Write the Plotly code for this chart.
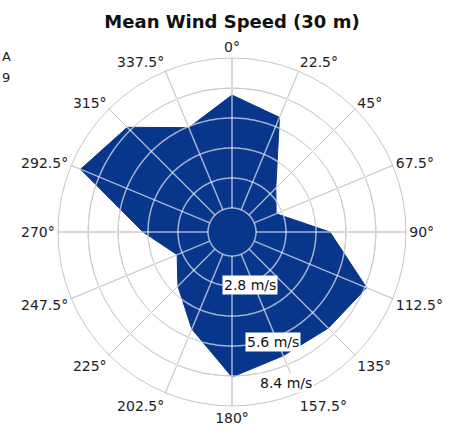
import numpy as np
import plotly.graph_objects as go

# Mean wind speed per direction sector (m/s), clockwise from north
directions = [0, 22.5, 45, 67.5, 90, 112.5, 135, 157.5,
              180, 202.5, 225, 247.5, 270, 292.5, 315, 337.5]
mean_speed = [6.67, 6.07, 3.17, 2.51, 4.85, 7.08, 6.63, 6.53,
              7.05, 5.18, 3.85, 3.05, 4.43, 7.93, 7.19, 5.55]

# Radial grid rings and the labelled speeds
ring_values = [1.4, 2.8, 4.2, 5.6, 7.0]
radial_max = 8.4
radial_min = 0.28
speed_labels = [2.8, 5.6, 8.4]

BLUE = "rgb(8,54,138)"
GRID_BASE = "#6e6e6e"      # lightened to ~#c5c5c5 by the white overlay
GRID_FINAL = "#c5c5c5"
OVERLAY = "rgba(255,255,255,0.62)"
FONT = "DejaVu Sans"

W, H = 450, 431
cx, cy, R = 232, 232, 174

fig = go.Figure()

# Filled wind-speed rose
fig.add_trace(go.Scatterpolar(
    r=mean_speed + [mean_speed[0]],
    theta=directions + [directions[0]],
    mode="lines",
    fill="toself",
    fillcolor=BLUE,
    line=dict(color=BLUE, width=1),
    hoverinfo="skip",
    showlegend=False,
))

# Grid lines redrawn above the fill: translucent white shows light blue on
# the rose and restores the plain grey grid elsewhere
circle_theta = np.linspace(0, 360, 361)
for rv in ring_values:
    fig.add_trace(go.Scatterpolar(
        r=[rv] * len(circle_theta), theta=circle_theta, mode="lines",
        line=dict(color=OVERLAY, width=1.5), hoverinfo="skip", showlegend=False,
    ))

spoke_r, spoke_t = [], []
for d in directions:
    spoke_r += [ring_values[0], radial_max, None]
    spoke_t += [d, d, None]
fig.add_trace(go.Scatterpolar(
    r=spoke_r, theta=spoke_t, mode="lines", connectgaps=False,
    line=dict(color=OVERLAY, width=1.5), hoverinfo="skip", showlegend=False,
))

tick_text = [("%g" % d) + "°" for d in directions]

fig.update_layout(
    width=W, height=H, autosize=False,
    margin=dict(l=0, r=0, t=0, b=0),
    paper_bgcolor="white",
    font=dict(family=FONT, size=14, color="#222222"),
    title=dict(
        text="<b>Mean Wind Speed (30 m)</b>",
        font=dict(family=FONT, size=18, color="#111111"),
        x=cx / W, xanchor="center",
        y=1 - 22 / H, yanchor="middle", yref="container",
    ),
    polar=dict(
        domain=dict(x=[(cx - R) / W, (cx + R) / W],
                    y=[(H - cy - R) / H, (H - cy + R) / H]),
        bgcolor="white",
        radialaxis=dict(
            range=[radial_min, radial_max],
            tickvals=ring_values,
            showticklabels=False, ticks="",
            showline=False,
            gridcolor=GRID_BASE, gridwidth=1,
        ),
        angularaxis=dict(
            rotation=90, direction="clockwise",
            tickmode="array", tickvals=directions, ticktext=tick_text,
            ticks="",
            showline=True, linecolor=GRID_FINAL, linewidth=1,
            gridcolor=GRID_BASE, gridwidth=1,
            tickfont=dict(family=FONT, size=14, color="#222222"),
        ),
    ),
)

# Speed labels on white boxes below the centre
label_px = [(250, 285), (273, 342), (286, 383)]
for val, (px, py) in zip(speed_labels, label_px):
    fig.add_annotation(
        text="%.1f m/s" % val, x=px / W, y=1 - py / H,
        xref="paper", yref="paper", xanchor="center", yanchor="middle",
        showarrow=False, bgcolor="white", borderpad=1,
        font=dict(family=FONT, size=14, color="#111111"),
    )

# Side legend text at the left edge
for txt, py in [("A", 56), ("9", 78)]:
    fig.add_annotation(
        text=txt, x=0, y=1 - py / H, xref="paper", yref="paper",
        xanchor="left", yanchor="middle", showarrow=False,
        font=dict(family=FONT, size=13, color="#222222"),
    )

fig.write_html("out.html")
